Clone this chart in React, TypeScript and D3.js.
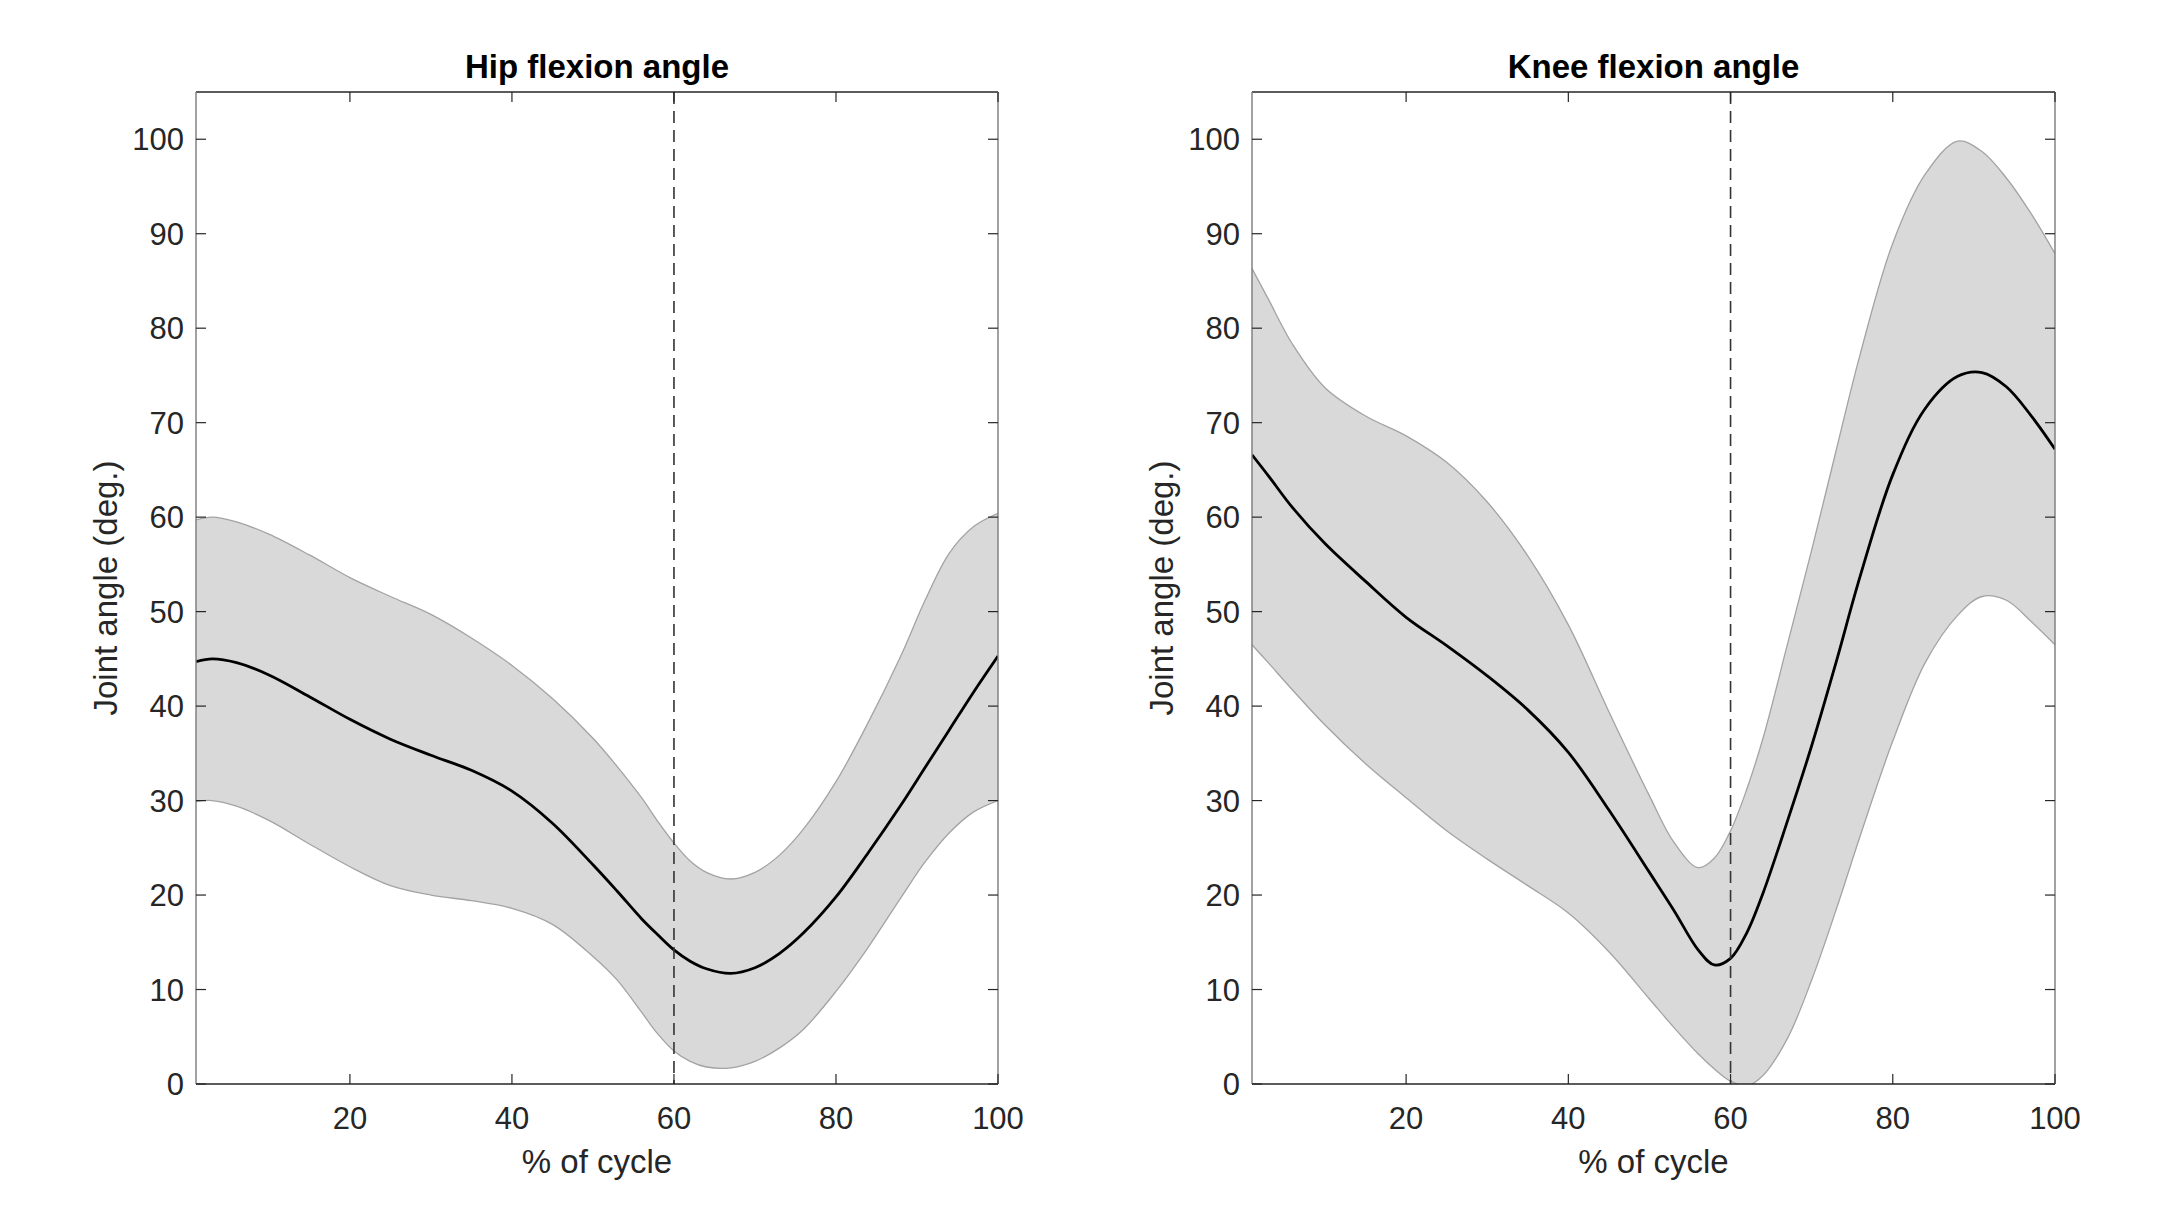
import React from 'react';
import * as d3 from 'd3';

// gait cycle samples (% of cycle)
const cycleX = [1, 3, 6, 10, 15, 20, 25, 30, 35, 40, 45, 50, 53, 56, 58, 60, 62, 64, 67, 70, 73, 76, 80, 84, 88, 91, 94, 97, 100];

const hipMean = [44.7, 45.0, 44.6, 43.3, 41.0, 38.6, 36.5, 34.8, 33.2, 31.0, 27.6, 23.2, 20.4, 17.5, 15.8, 14.2, 13.0, 12.2, 11.7, 12.3, 13.8, 16.0, 19.8, 24.5, 29.5, 33.5, 37.5, 41.5, 45.3];
const hipUpper = [59.7, 60.0, 59.5, 58.2, 56.0, 53.6, 51.6, 49.7, 47.2, 44.3, 40.8, 36.6, 33.6, 30.3, 27.8, 25.5, 23.6, 22.4, 21.7, 22.4, 24.2, 27.0, 32.0, 38.3, 45.3, 51.2, 56.2, 59.0, 60.4];
const hipLower = [29.9, 30.0, 29.4, 27.9, 25.4, 23.0, 21.0, 20.0, 19.4, 18.6, 16.9, 13.5, 11.0, 7.6, 5.3, 3.5, 2.4, 1.8, 1.7, 2.4, 3.8, 5.8, 9.8, 14.5, 19.7, 23.5, 26.6, 28.8, 30.0];

const kneeMean = [66.6, 64.4, 61.0, 57.2, 53.2, 49.4, 46.4, 43.2, 39.6, 35.1, 29.0, 22.4, 18.4, 14.2, 12.6, 13.3, 16.0, 20.2, 27.8, 35.8, 44.6, 53.8, 64.5, 71.5, 74.9, 75.3, 73.8, 70.8, 67.2];
const kneeUpper = [86.3, 83.1, 78.3, 73.7, 70.7, 68.6, 65.8, 61.6, 55.9, 48.6, 39.4, 30.5, 25.6, 22.9, 23.9, 26.8, 31.2, 36.6, 46.5, 56.5, 67.0, 77.3, 89.0, 96.3, 99.8, 98.7, 95.9, 92.2, 87.9];
const kneeLower = [46.5, 44.6, 41.7, 38.0, 33.9, 30.3, 26.8, 23.8, 21.0, 18.1, 14.0, 9.0, 6.0, 3.2, 1.6, 0.3, -0.2, 0.9, 4.8, 11.0, 18.4, 26.3, 36.3, 44.6, 49.6, 51.6, 51.2, 49.0, 46.5];

const xTicks = [20, 40, 60, 80, 100];
const yTicks = [0, 10, 20, 30, 40, 50, 60, 70, 80, 90, 100];
const eventX = 60;

const panels = [
  { id: 'hip', title: 'Hip flexion angle', mean: hipMean, upper: hipUpper, lower: hipLower, left: 196, right: 998 },
  { id: 'knee', title: 'Knee flexion angle', mean: kneeMean, upper: kneeUpper, lower: kneeLower, left: 1252, right: 2055 },
];

const TOP = 92;
const BOTTOM = 1084;
const FONT = '"Liberation Sans", Arial, Helvetica, sans-serif';
const TEXT = '#262626';

function Panel({ p }: { p: typeof panels[number] }) {
  const x = d3.scaleLinear().domain([1, 100]).range([p.left, p.right]);
  const y = d3.scaleLinear().domain([0, 105]).range([BOTTOM, TOP]);
  const idx = d3.range(cycleX.length);
  const curve = d3.curveCatmullRom.alpha(0.5);

  const band = d3.area<number>()
    .x(i => x(cycleX[i]))
    .y0(i => y(p.lower[i]))
    .y1(i => y(p.upper[i]))
    .curve(curve);
  const upperLine = d3.line<number>().x(i => x(cycleX[i])).y(i => y(p.upper[i])).curve(curve);
  const lowerLine = d3.line<number>().x(i => x(cycleX[i])).y(i => y(p.lower[i])).curve(curve);
  const meanLine = d3.line<number>().x(i => x(cycleX[i])).y(i => y(p.mean[i])).curve(curve);

  const tick = 10;
  const cx = (p.left + p.right) / 2;
  const cy = (TOP + BOTTOM) / 2;

  return (
    <g>
      <defs>
        <clipPath id={`clip-${p.id}`}>
          <rect x={p.left} y={TOP} width={p.right - p.left} height={BOTTOM - TOP} />
        </clipPath>
      </defs>
      <g clipPath={`url(#clip-${p.id})`}>
        <path d={band(idx) || ''} fill="#d9d9d9" stroke="none" />
        <path d={upperLine(idx) || ''} fill="none" stroke="#a3a3a3" strokeWidth={1.3} />
        <path d={lowerLine(idx) || ''} fill="none" stroke="#a3a3a3" strokeWidth={1.3} />
        <path d={meanLine(idx) || ''} fill="none" stroke="#000" strokeWidth={2.8} />
        <line x1={x(eventX)} x2={x(eventX)} y1={TOP} y2={BOTTOM} stroke="#333" strokeWidth={1.6} strokeDasharray="12,7" />
      </g>

      {/* box */}
      <line x1={p.left} x2={p.right} y1={TOP} y2={TOP} stroke={TEXT} strokeWidth={1.4} />
      <line x1={p.left} x2={p.right} y1={BOTTOM} y2={BOTTOM} stroke={TEXT} strokeWidth={1.4} />
      <line x1={p.left} x2={p.left} y1={TOP} y2={BOTTOM} stroke="#7a7a7a" strokeWidth={1.4} />
      <line x1={p.right} x2={p.right} y1={TOP} y2={BOTTOM} stroke="#7a7a7a" strokeWidth={1.4} />

      {/* x ticks */}
      {xTicks.map(t => (
        <g key={`x${t}`}>
          <line x1={x(t)} x2={x(t)} y1={BOTTOM} y2={BOTTOM - tick} stroke={TEXT} strokeWidth={1.2} />
          <line x1={x(t)} x2={x(t)} y1={TOP} y2={TOP + tick} stroke={TEXT} strokeWidth={1.2} />
          <text x={x(t)} y={1129} textAnchor="middle" fontSize={31} fill={TEXT} fontFamily={FONT}>{t}</text>
        </g>
      ))}

      {/* y ticks */}
      {yTicks.map(t => (
        <g key={`y${t}`}>
          <line x1={p.left} x2={p.left + tick} y1={y(t)} y2={y(t)} stroke={TEXT} strokeWidth={1.2} />
          <line x1={p.right} x2={p.right - tick} y1={y(t)} y2={y(t)} stroke={TEXT} strokeWidth={1.2} />
          <text x={p.left - 12} y={y(t)} dy="0.36em" textAnchor="end" fontSize={31} fill={TEXT} fontFamily={FONT}>{t}</text>
        </g>
      ))}

      <text x={cx} y={78} textAnchor="middle" fontSize={33} fontWeight="bold" fill="#000" fontFamily={FONT}>{p.title}</text>
      <text x={cx} y={1173} textAnchor="middle" fontSize={33} fill={TEXT} fontFamily={FONT}>% of cycle</text>
      <text transform={`translate(${p.left - 79},${cy}) rotate(-90)`} textAnchor="middle" fontSize={33} fill={TEXT} fontFamily={FONT}>Joint angle (deg.)</text>
    </g>
  );
}

export default function App() {
  return (
    <svg width={2167} height={1219} style={{ position: 'absolute', left: 0, top: 0, background: '#fff' }}>
      <rect width={2167} height={1219} fill="#fff" />
      {panels.map(p => <Panel key={p.id} p={p} />)}
    </svg>
  );
}
